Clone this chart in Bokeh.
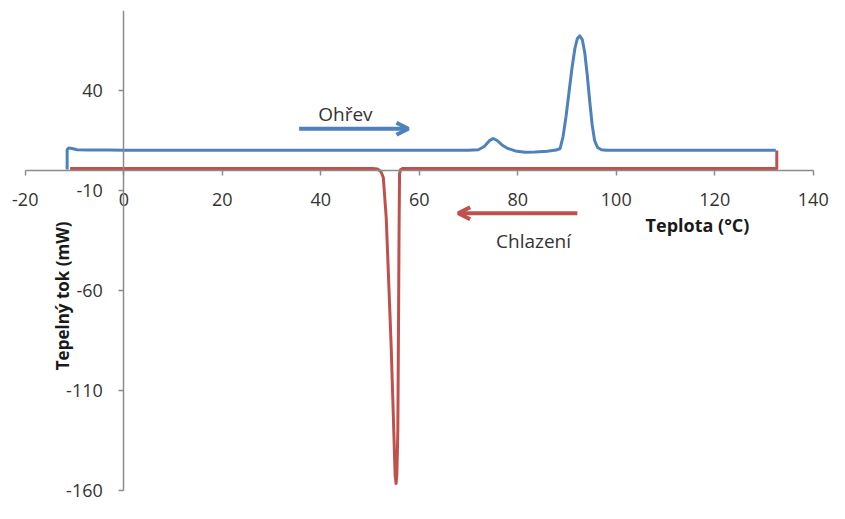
from bokeh.plotting import figure
from bokeh.models import Range1d, FixedTicker, Label, Arrow, OpenHead, NumeralTickFormatter
from bokeh.embed import file_html
from bokeh.resources import INLINE

# Heating curve (Ohřev)
heat_T = [-11.5, -11.5, -11.2, -10.5, -9.5, -7, -3, 0, 20, 40, 60, 70, 72, 73.2, 74.2, 75.0, 75.8, 76.8,
          77.8, 79.5, 81.5, 83.5, 86, 87.8, 88.6, 89.2, 89.8, 90.4, 91.0, 91.6, 92.1, 92.6, 93.1, 93.6,
          94.1, 94.6, 95.1, 95.6, 96.2, 97.0, 98.0, 100, 110, 120, 132.4]
heat_P = [0.5, 10.4, 11.2, 11.0, 10.4, 10.3, 10.2, 10.1, 10.1, 10.1, 10.1, 10.1, 10.4, 12.0, 14.8, 16.0, 15.0, 12.8,
          11.2, 9.8, 9.1, 9.2, 9.6, 10.2, 11.0, 17.0, 27.0, 39.0, 51.0, 61.0, 66.0, 67.3, 65.5, 59.0,
          48.0, 35.0, 23.0, 15.0, 11.5, 10.4, 10.1, 10.1, 10.1, 10.1, 10.1]

# Cooling curve (Chlazení)
cool_T = [132.6, 132.6, 120, 100, 80, 60, 56.6, 56.2, 56.0, 55.9, 55.8, 55.65, 55.45, 55.3, 55.1, 54.7,
          54.3, 53.8, 53.3, 52.7, 52.2, 51.5, 50.5, 40, 20, 0, -10.9]
cool_P = [10.0, 1.0, 1.0, 1.0, 1.0, 1.0, 1.0, 0.5, -1.7, -30.0, -72.0, -130.0, -152.0, -156.5, -152.4, -120.0,
          -88.0, -56.0, -24.0, -3.5, -0.5, 0.8, 1.0, 1.0, 1.0, 1.0, 1.0]

x_ticks = [-20, 0, 20, 40, 60, 80, 100, 120, 140]
y_ticks = [40, -10, -60, -110, -160]

BLUE = "#4F81BD"
RED = "#C0504D"
AXIS = "#8C8C8C"
TXT = "#333333"
FONT = "Open Sans"

p = figure(width=829, height=503, output_backend="svg", toolbar_location=None,
           x_range=Range1d(-23, 143.3), y_range=Range1d(-166.5, 80),
           min_border_left=10, min_border_right=0, min_border_top=10, min_border_bottom=0)
p.outline_line_color = None
p.xgrid.visible = False
p.ygrid.visible = False
p.background_fill_color = "white"
p.border_fill_color = "white"

p.xaxis.fixed_location = 0
p.yaxis.fixed_location = 0
p.xaxis.bounds = (-20, 140)
p.yaxis.bounds = (-160, 80)
for ax in (p.xaxis, p.yaxis):
    ax.axis_line_color = AXIS
    ax.axis_line_width = 1.5
    ax.major_tick_line_color = AXIS
    ax.major_tick_line_width = 1.5
    ax.major_tick_in = 0
    ax.major_tick_out = 5
    ax.minor_tick_line_color = None
    ax.major_label_text_font = FONT
    ax.major_label_text_font_size = "18px"
    ax.major_label_text_color = TXT
    ax.formatter = NumeralTickFormatter(format="0")
p.xaxis.ticker = FixedTicker(ticks=x_ticks)
p.yaxis.ticker = FixedTicker(ticks=y_ticks)
p.xaxis.major_label_standoff = 17
p.yaxis.major_label_standoff = 16

p.line(cool_T, cool_P, line_color=RED, line_width=3, line_join="round")
p.line(heat_T, heat_P, line_color=BLUE, line_width=3, line_join="round")

p.add_layout(Arrow(end=OpenHead(size=12, line_color=BLUE, line_width=4), x_start=35.6, y_start=20.9,
                   x_end=57.8, y_end=20.9, line_color=BLUE, line_width=4))
p.add_layout(Arrow(end=OpenHead(size=12, line_color=RED, line_width=4), x_start=92.1, y_start=-21.4,
                   x_end=67.9, y_end=-21.4, line_color=RED, line_width=4))

p.add_layout(Label(x=45, y=28.1, text="Ohřev", text_font=FONT, text_font_size="19px",
                   text_color=TXT, text_align="center", text_baseline="middle"))
p.add_layout(Label(x=83.2, y=-35.3, text="Chlazení", text_font=FONT, text_font_size="19px",
                   text_color=TXT, text_align="center", text_baseline="middle"))
p.add_layout(Label(x=116.5, y=-27.2, text="Teplota (°C)", text_font=FONT, text_font_size="18px",
                   text_font_style="bold", text_color="#1a1a1a", text_align="center", text_baseline="middle"))
p.add_layout(Label(x=-12.5, y=-62.7, text="Tepelný tok (mW)", text_font=FONT, text_font_size="17px",
                   text_font_style="bold", text_color="#1a1a1a", text_align="center", text_baseline="middle",
                   angle=1.5708))

open("out.html", "w").write(file_html(p, INLINE))
